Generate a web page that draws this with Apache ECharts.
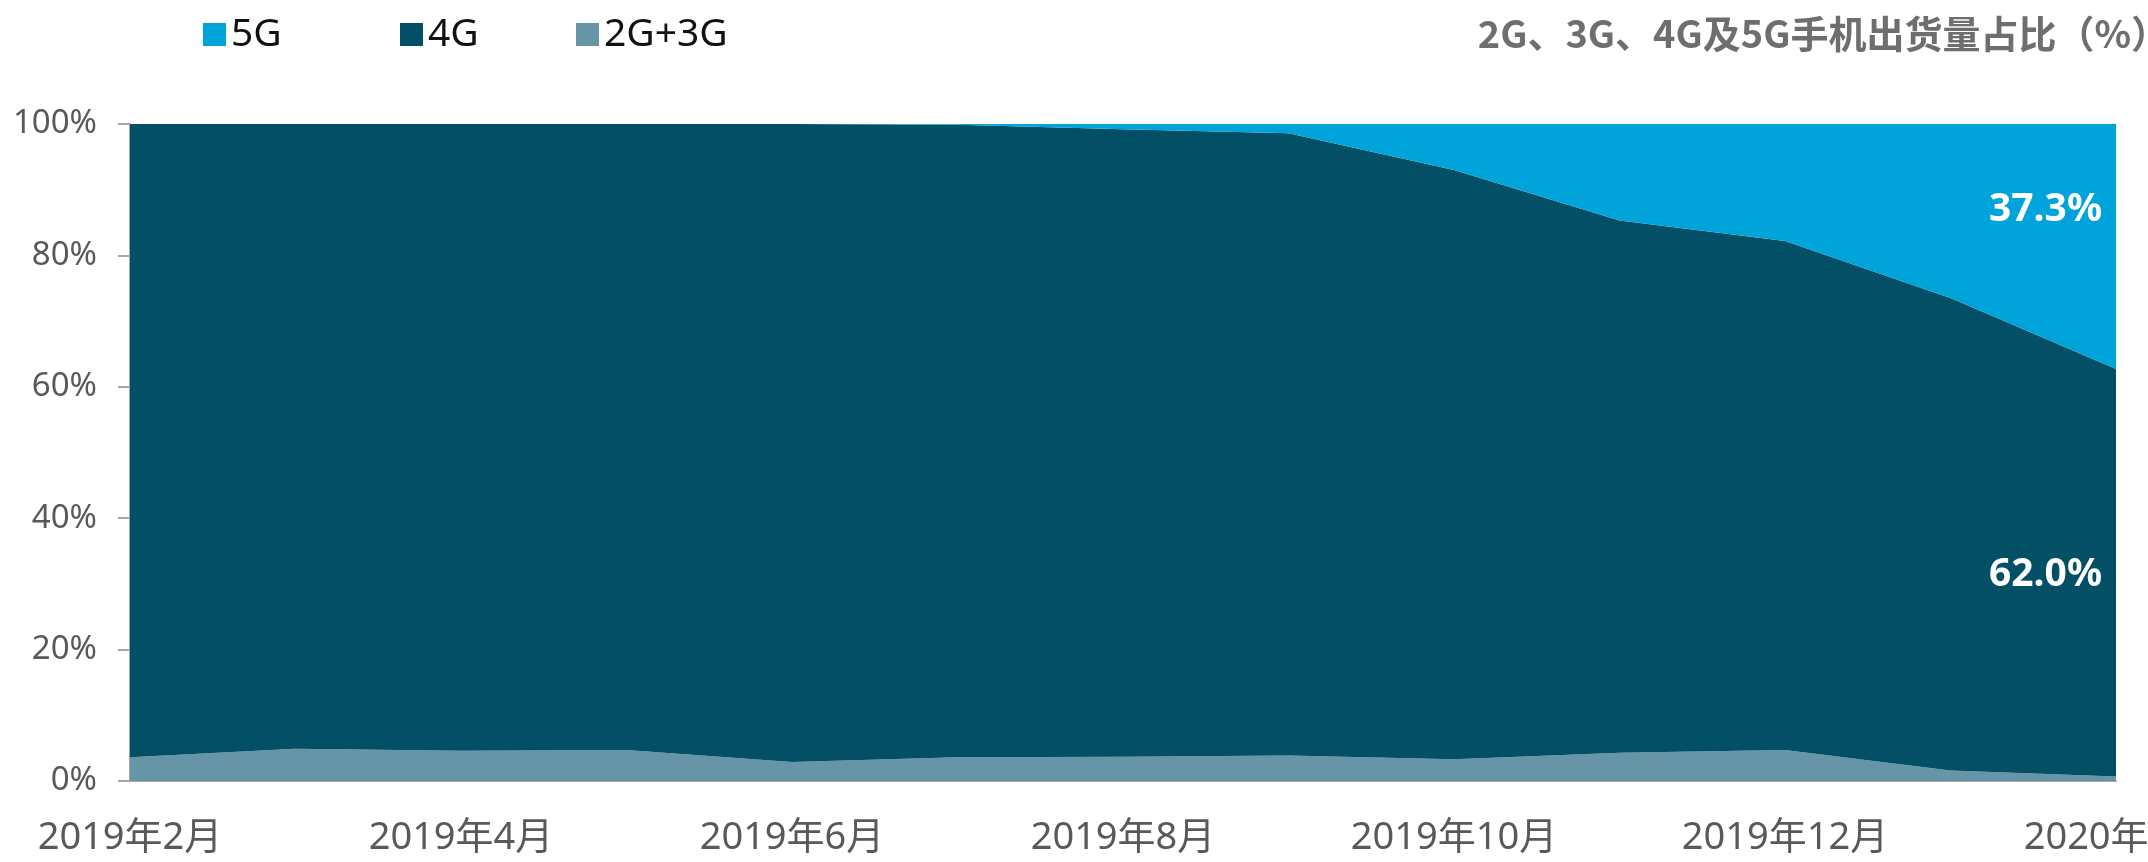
<!DOCTYPE html>
<html>
<head>
<meta charset="utf-8">
<script src="https://cdn.jsdelivr.net/npm/echarts@6/dist/echarts.min.js"></script>
<style>
  html, body { margin: 0; padding: 0; background: #fff; }
  #main { width: 2148px; height: 862px; }
</style>
</head>
<body>
<div id="main"></div>
<script>
// 月份（横轴）
var months = ['2019年2月', '2019年3月', '2019年4月', '2019年5月', '2019年6月', '2019年7月',
  '2019年8月', '2019年9月', '2019年10月', '2019年11月', '2019年12月', '2020年1月', '2020年2月'];
// 各制式出货量占比（%）
var share2g3g = [3.6, 4.9, 4.6, 4.7, 2.9, 3.6, 3.7, 3.9, 3.3, 4.3, 4.7, 1.6, 0.7];
var share4g = [96.4, 95.1, 95.4, 95.3, 97.1, 96.3, 95.5, 94.7, 89.7, 81.0, 77.5, 71.9, 62.0];
var share5g = [0, 0, 0, 0, 0, 0.1, 0.8, 1.4, 7.0, 14.7, 17.8, 26.5, 37.3];
var legendNames = ['5G', '4G', '2G+3G'];

var font = '"Noto Sans", "Noto Sans CJK SC", sans-serif';

function area(name, data, color, endLabel) {
  return {
    name: name,
    type: 'line',
    stack: 'total',
    data: data,
    showSymbol: false,
    lineStyle: { width: 0 },
    itemStyle: { color: color },
    areaStyle: { color: color, opacity: 1 },
    endLabel: endLabel
  };
}

function endLabelAt(dy) {
  return {
    show: true,
    formatter: function (p) { return p.value.toFixed(1) + '%'; },
    color: '#fff',
    fontWeight: 'bold',
    fontSize: 39,
    fontFamily: font,
    offset: [-135, dy]
  };
}

// 图例（三个位置分开摆放）
var legendLeft = [198, 395, 571];
var legends = legendNames.map(function (n, i) {
  return {
    data: [n],
    left: legendLeft[i],
    top: 10,
    icon: 'rect',
    itemWidth: 23,
    itemHeight: 23,
    itemGap: 0,
    textStyle: { color: '#111', fontSize: 39, fontFamily: font }
  };
});

var myChart = echarts.init(document.getElementById('main'));
myChart.setOption({
  animation: false,
  title: {
    text: '2G、3G、4G及5G手机出货量占比（%）',
    right: -26,
    top: 10,
    textStyle: { color: '#6e6e6e', fontSize: 38, fontWeight: 'bold', fontFamily: '"Noto Sans CJK SC", sans-serif' }
  },
  legend: legends,
  grid: { left: 130, right: 32, top: 124, bottom: 81, outerBoundsMode: 'none', containLabel: false },
  xAxis: {
    type: 'category',
    data: months,
    boundaryGap: false,
    axisLine: { lineStyle: { color: '#a6a6a6', width: 2 } },
    axisTick: { show: false },
    axisLabel: { interval: 1, color: '#595959', fontSize: 38, margin: 38, fontFamily: font },
  },
  yAxis: {
    type: 'value',
    min: 0,
    max: 100,
    interval: 20,
    axisLine: { show: true, lineStyle: { color: '#a6a6a6', width: 2 } },
    axisTick: { show: true, length: 12, lineStyle: { color: '#a6a6a6', width: 2 } },
    splitLine: { show: false },
    axisLabel: { formatter: '{value}%', color: '#595959', fontSize: 33, margin: 33, fontFamily: font }
  },
  series: [
    area('2G+3G', share2g3g, '#6795a8'),
    area('4G', share4g, '#024f66', endLabelAt(206)),
    area('5G', share5g, '#00a3da', endLabelAt(86))
  ]
});
</script>
</body>
</html>
